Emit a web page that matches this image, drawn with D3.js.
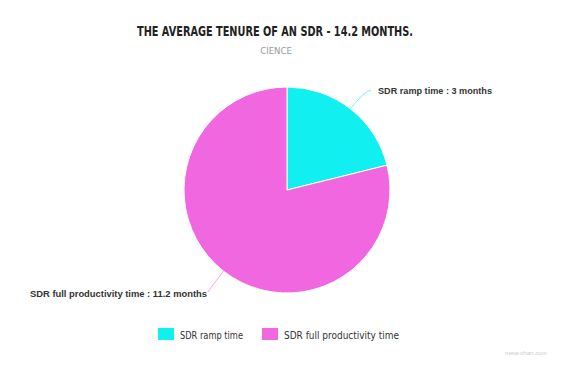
<!DOCTYPE html>
<html><head><meta charset="utf-8">
<script src="https://cdn.jsdelivr.net/npm/d3@7"></script>
<style>body{margin:0;background:#fff}svg{display:block}</style>
</head><body>
<script>
const categories = ["SDR ramp time", "SDR full productivity time"];
const values = [3, 11.2];
const colors = ["#11eff0", "#f067e0"];
const labelTexts = ["SDR ramp time : 3 months", "SDR full productivity time : 11.2 months"];

const W = 588, H = 371;
const svg = d3.select("body").append("svg").attr("width", W).attr("height", H);
svg.append("rect").attr("width", W).attr("height", H).attr("fill", "#fff");

svg.append("text").attr("x", 137).attr("y", 36)
  .attr("font-family", "DejaVu Sans Condensed, Liberation Sans Narrow, sans-serif")
  .attr("font-weight", "bold").attr("font-size", 13.5).attr("fill", "#222")
  .attr("textLength", 276).attr("lengthAdjust", "spacingAndGlyphs")
  .text("THE AVERAGE TENURE OF AN SDR - 14.2 MONTHS.");
svg.append("text").attr("x", 276).attr("y", 54).attr("text-anchor", "middle")
  .attr("font-family", "DejaVu Sans Condensed, sans-serif").attr("font-size", 9.5).attr("fill", "#999")
  .text("CIENCE");

const cx = 287, cy = 190, r = 103;
const pie = d3.pie().sort(null).value(d => d)(values);
const arc = d3.arc().innerRadius(0).outerRadius(r);
const g = svg.append("g").attr("transform", `translate(${cx},${cy})`);
g.selectAll("path").data(pie).join("path")
  .attr("d", arc).attr("fill", (d, i) => colors[i])
  .attr("stroke", "#fff").attr("stroke-width", 1);

// leader lines & labels
const labelPos = [[378, 94, 114], [30, 297, 177]];
pie.forEach((d, i) => {
  const mid = (d.startAngle + d.endAngle) / 2;
  const p0 = [Math.sin(mid) * r, -Math.cos(mid) * r];
  const p1 = [Math.sin(mid) * (r + 22), -Math.cos(mid) * (r + 22)];
  const lx = labelPos[i][0] - cx, ly = labelPos[i][1] - cy;
  const end = i === 0 ? [lx - 7, ly - 4] : [lx + 178, ly - 5];
  g.append("path")
    .attr("d", `M${p0[0]},${p0[1]}Q${p1[0]},${p1[1]} ${end[0]},${end[1]}`)
    .attr("fill", "none").attr("stroke", colors[i]).attr("stroke-width", 1).attr("opacity", 0.6);
  svg.append("text").attr("x", labelPos[i][0]).attr("y", labelPos[i][1])
    .attr("font-family", "Liberation Sans, Arial, sans-serif").attr("font-weight", "bold")
    .attr("font-size", 8.5).attr("fill", "#333")
    .attr("textLength", labelPos[i][2]).attr("lengthAdjust", "spacingAndGlyphs")
    .text(labelTexts[i]);
});

// legend
const legX = [158, 262];
const legW = [63, 115];
categories.forEach((c, i) => {
  svg.append("rect").attr("x", legX[i]).attr("y", 328).attr("width", 16).attr("height", 12).attr("fill", colors[i]);
  svg.append("text").attr("x", legX[i] + 22).attr("y", 338.5)
    .attr("font-family", "DejaVu Sans Condensed, sans-serif").attr("font-size", 10.5).attr("fill", "#333")
    .attr("textLength", legW[i]).attr("lengthAdjust", "spacingAndGlyphs").text(c);
});

svg.append("text").attr("x", 505).attr("y", 355).attr("font-family", "Liberation Sans, sans-serif")
  .attr("font-size", 6).attr("fill", "#ccc").text("meta-chart.com");
</script>
</body></html>
